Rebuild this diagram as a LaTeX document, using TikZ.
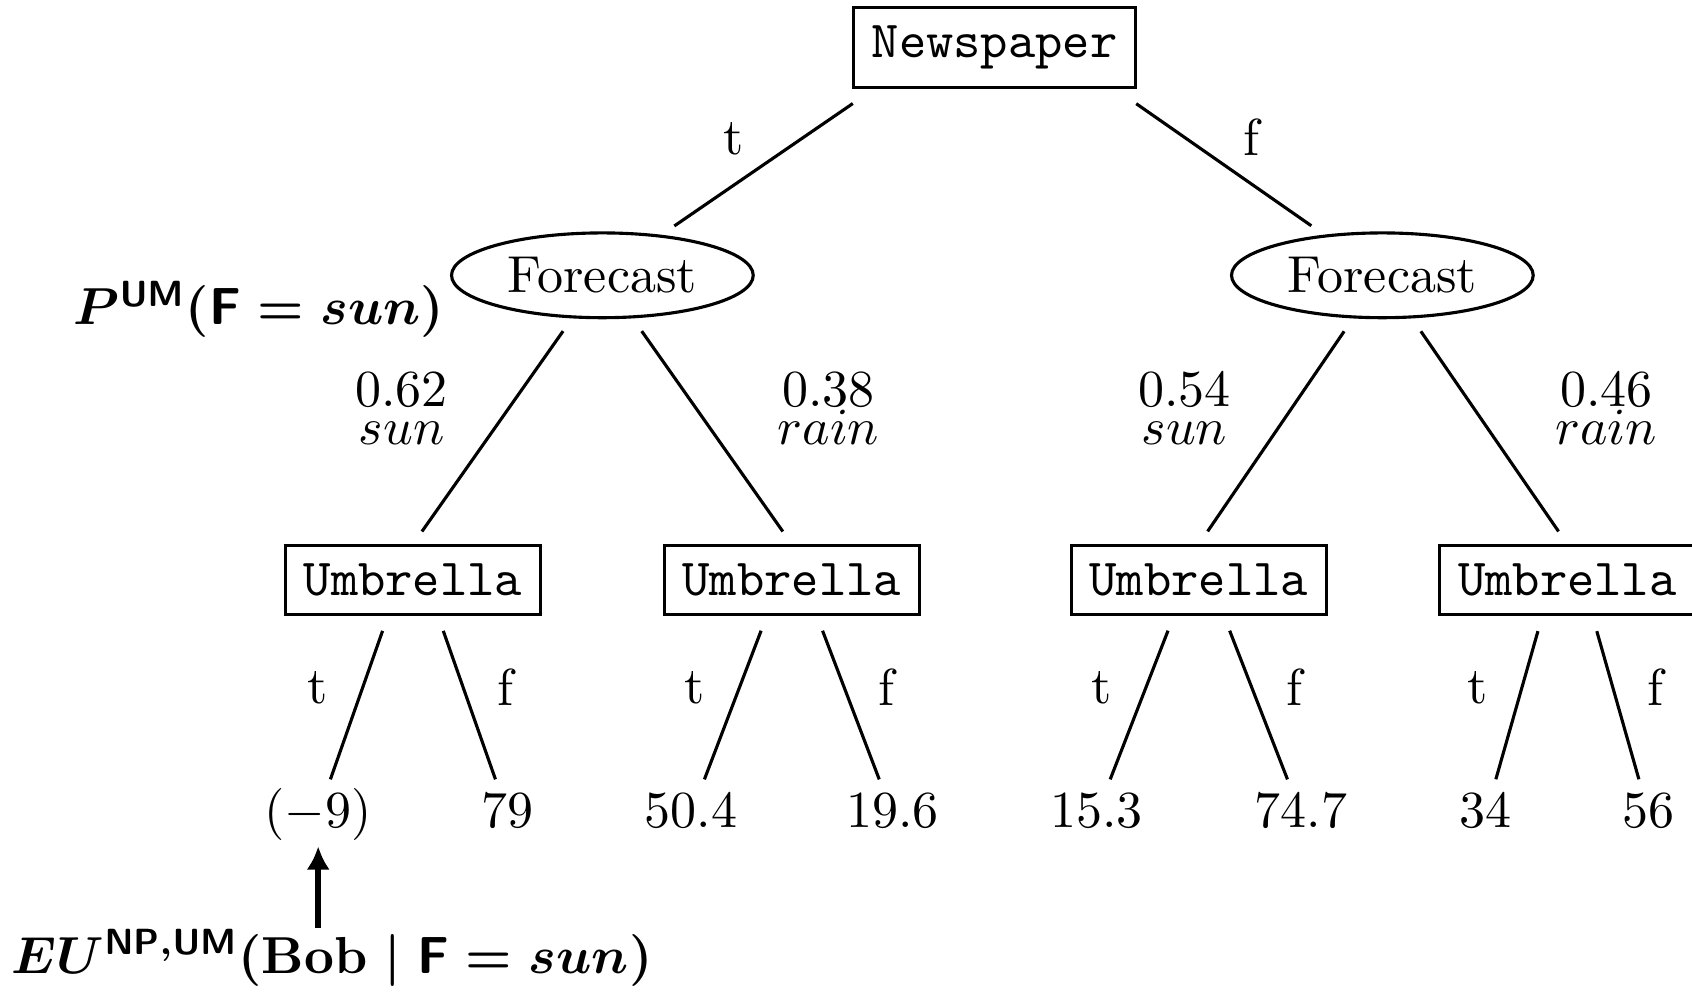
\documentclass[tikz,border=0pt]{standalone}
\usepackage{amssymb, amsmath}
\usetikzlibrary{shapes.geometric,arrows.meta}
\tikzstyle{decision}=[draw, rectangle, line width=0.6pt, inner sep=3.5pt, font=\ttfamily]
\tikzstyle{chance}=[draw, ellipse, line width=0.6pt, minimum width=58pt, minimum height=16.3pt, inner sep=0pt]
\tikzstyle{leaf}=[text height=7.5pt, text depth=2.5pt, inner sep=1pt]
\tikzstyle{branch}=[line width=0.6pt, shorten <=3pt, shorten >=3pt]
\tikzstyle{bigmath}=[font=\boldmath]
\newcommand{\drawchoice}[3]{
\draw[branch, shorten >=0.5pt] (#1.-125) -- (#2) node[pos=0.43, left=3pt] {t};
\draw[branch, shorten >=0.5pt] (#1.-55) -- (#3) node[pos=0.43, right=3pt] {f};
}
\newcommand{\drawforecast}[5]{
\draw[branch] (#1) -- (#2.north) node[pos=0.4, left=8pt, align=center] {$#4$\\[-4.6pt]$sun$};
\draw[branch] (#1) -- (#3.north) node[pos=0.4, right=12pt, align=center] {$#5$\\[-4.6pt]$rain$};
}

\begin{document}
\begin{tikzpicture}
	\useasboundingbox (0,0) rectangle (11.432,-6.703);
	% decision and chance nodes
	\node[decision] (np) at (6.72,-0.32) {Newspaper};
	\node[chance] (fl) at (4.07,-1.86) {Forecast};
	\node[chance] (fr) at (9.34,-1.86) {Forecast};
	\foreach \name/\x in {u1/2.79, u2/5.35, u3/8.10, u4/10.59} {
		\node[decision] (\name) at (\x,-3.92) {Umbrella};
	}
	% utilities
	\foreach \name/\x/\val in {l1/2.15/(-9), l2/3.43/79, l3/4.67/50.4, l4/6.03/19.6, l5/7.41/15.3, l6/8.79/74.7, l7/10.04/34, l8/11.14/56} {
		\node[leaf] (\name) at (\x,-5.50) {$\val$};
	}
	\draw[branch, shorten <=5pt] (np.-161) -- (fl) node[pos=0.55, above left=-1pt] {t};
	\draw[branch, shorten <=5pt] (np.-19) -- (fr) node[pos=0.55, above right=-1pt] {f};
	\drawforecast{fl}{u1}{u2}{0.62}{0.38}
	\drawforecast{fr}{u3}{u4}{0.54}{0.46}
	\drawchoice{u1}{l1}{l2}
	\drawchoice{u2}{l3}{l4}
	\drawchoice{u3}{l5}{l6}
	\drawchoice{u4}{l7}{l8}
	% annotations
	\node[bigmath] (pum) at (1.75,-2.09) {$P^{\mathsf{UM}}(\mathsf{F}=sun)$};
	\node[bigmath, inner sep=0pt, anchor=west] (eu) at (0.074,-6.47) {$EU^{\mathsf{NP,UM}}(\mathrm{Bob}\mid\mathsf{F}=sun)$};
	\draw[-{Latex[length=4.5pt,width=4.5pt]}, line width=1.2pt] (eu.north -| l1) -- (l1.south); %arrow to (-9)
\end{tikzpicture}
\end{document}
